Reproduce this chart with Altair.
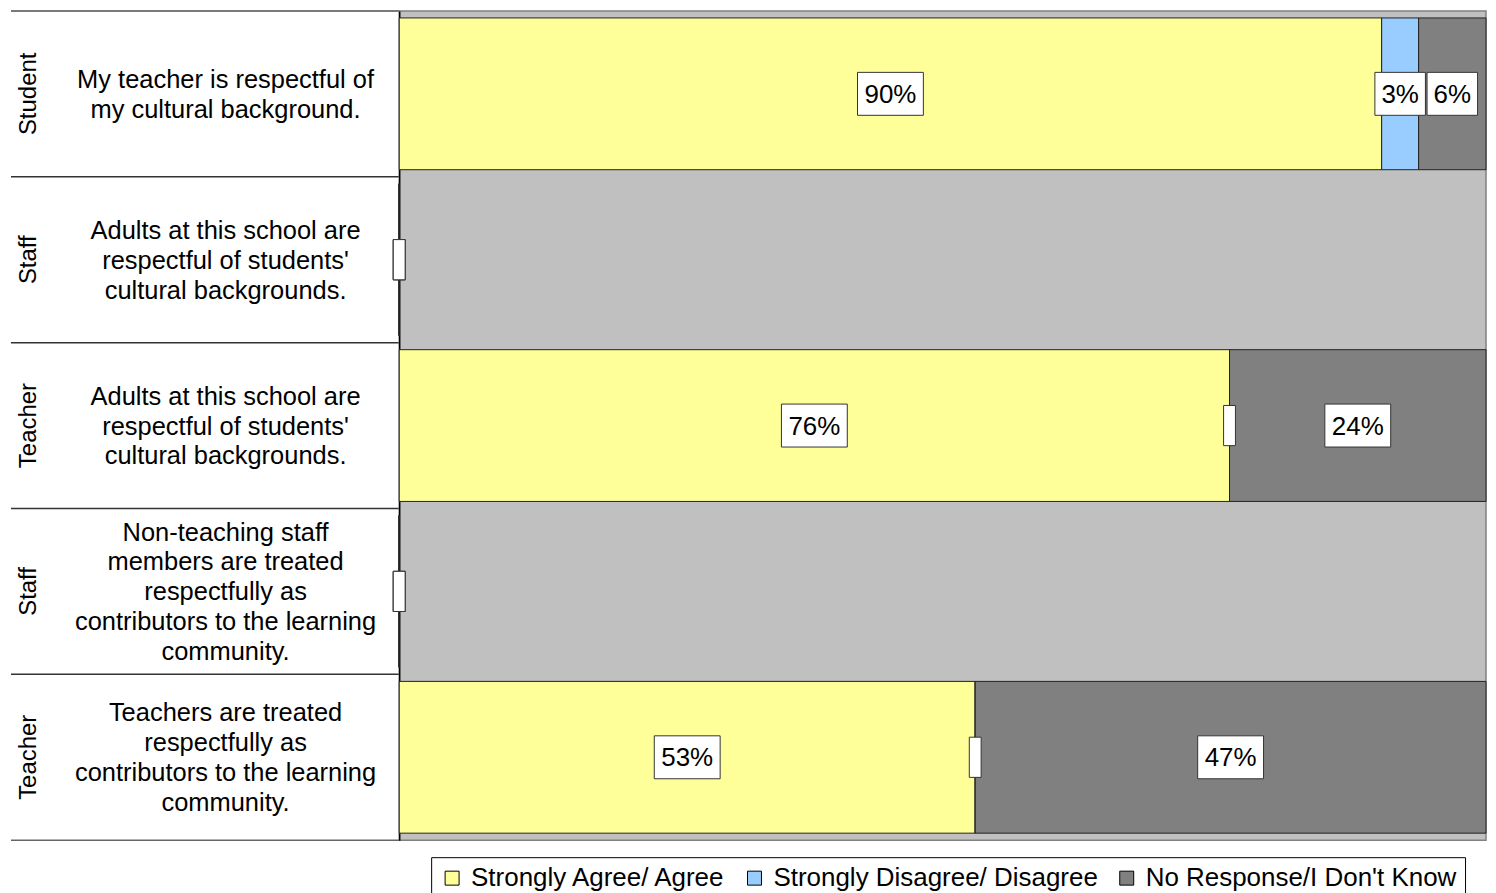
import altair as alt
import pandas as pd

# ---- data ----
rows = ["r1", "r2", "r3", "r4", "r5"]
groups = ["Student", "Staff", "Teacher", "Staff", "Teacher"]
questions = [
    "My teacher is respectful of\nmy cultural background.",
    "Adults at this school are\nrespectful of students'\ncultural backgrounds.",
    "Adults at this school are\nrespectful of students'\ncultural backgrounds.",
    "Non-teaching staff\nmembers are treated\nrespectfully as\ncontributors to the learning\ncommunity.",
    "Teachers are treated\nrespectfully as\ncontributors to the learning\ncommunity.",
]
categories = ["Strongly Agree/ Agree", "Strongly Disagree/ Disagree", "No Response/I Don't Know"]
colors = ["#FFFF99", "#99CCFF", "#808080"]
agree = [90.4, 0.0, 76.4, 0.0, 53.0]
disagree = [3.4, 0.0, 0.0, 0.0, 0.0]
noresp = [6.2, 0.0, 23.6, 0.0, 47.0]

FONT = "Liberation Sans"
LEFT_W = 391
PLOT_W = 1089
H = 831
LINE_H = 30

records = []
for i, r in enumerate(rows):
    for j, (cat, vals) in enumerate(zip(categories, [agree, disagree, noresp])):
        records.append({"row": r, "category": cat, "order": j, "value": vals[i]})
df = pd.DataFrame(records)

left_df = pd.DataFrame({"row": rows, "group": groups, "question": questions})

# ---- left label panel ----
lscale = alt.Scale(domain=rows, paddingInner=0, paddingOuter=0)
yl = alt.Y("row:N", scale=lscale, axis=None)
left_base = alt.Chart(left_df).transform_calculate(
    nl="length(split(datum.question, '\\n'))"
)
left_lines = left_base.mark_rule(color="#333333", strokeWidth=1.5).encode(
    y=alt.Y("row:N", bandPosition=0, scale=lscale, axis=None),
    x=alt.value(2), x2=alt.value(LEFT_W),
)
left_top = left_base.transform_filter(alt.datum.row == rows[0]).mark_rule(color="#808080", strokeWidth=1.5).encode(
    y=alt.Y("row:N", bandPosition=0, scale=lscale, axis=None),
    x=alt.value(2), x2=alt.value(LEFT_W),
)
left_bottom = left_base.transform_filter(alt.datum.row == rows[-1]).mark_rule(color="#666666", strokeWidth=1.5).encode(
    y=alt.Y("row:N", bandPosition=1, scale=lscale, axis=None),
    x=alt.value(2), x2=alt.value(LEFT_W),
)
group_text = left_base.mark_text(font=FONT, fontSize=24, angle=270, color="black",
                                 align="center", baseline="middle").encode(
    y=yl, x=alt.value(20), text="group:N")

q_layers = []
for n in [2, 3, 4, 5]:
    q_layers.append(
        left_base.transform_filter(alt.datum.nl == n).mark_text(
            font=FONT, fontSize=25.5, color="black", align="center", baseline="middle",
            lineBreak="\n", lineHeight=LINE_H, dy=-(n - 1) * LINE_H / 2 + 1,
        ).encode(y=yl, x=alt.value(217), text="question:N")
    )

left = alt.layer(left_lines, left_top, left_bottom, group_text, *q_layers).properties(
    width=LEFT_W, height=H,
    view=alt.ViewBackground(stroke="transparent", fill="white"),
)

# ---- right bar panel ----
xs = alt.Scale(domain=[0, 100], nice=False, zero=True)
yr = alt.Y("row:N", scale=alt.Scale(domain=rows, paddingInner=0.085, paddingOuter=0.0425),
           axis=alt.Axis(labels=False, ticks=False, title=None, domainColor="black", domainWidth=1.5, grid=False))

base = alt.Chart(df).transform_stack(
    stack="value", groupby=["row"], as_=["x0", "x1"], sort=[alt.SortField("order", order="ascending")]
).transform_calculate(
    mid="(datum.x0 + datum.x1) / 2",
    label="datum.value > 0 ? format(datum.value, '.0f') + '%' : ''",
    kind="datum.value <= 0 ? 'w0' : (datum.value < 9.5 ? 'w2' : 'w3')",
)

bars = base.mark_bar(stroke="#222222", strokeWidth=1).encode(
    x=alt.X("x0:Q", scale=xs, axis=None),
    x2="x1:Q",
    y=yr,
    color=alt.Color(
        "category:N",
        scale=alt.Scale(domain=categories, range=colors),
        legend=alt.Legend(
            title=None, orient="none", direction="horizontal", legendX=32, legendY=848,
            symbolType="square", symbolSize=196, symbolStrokeColor="black", symbolStrokeWidth=1,
            labelFont=FONT, labelFontSize=26, labelColor="black", labelOffset=6, labelLimit=600,
            columnPadding=15, padding=8, strokeColor="black", fillColor="white",
        ),
    ),
    order=alt.Order("order:Q"),
)

box_paths = {
    "w0": "M-0.18,-0.61H0.18V0.61H-0.18Z",
    "w2": "M-0.767,-0.652H0.767V0.652H-0.767Z",
    "w3": "M-1,-0.652H1V0.652H-1Z",
}
boxes = base.mark_point(filled=True, fill="white", stroke="#333333", strokeWidth=1, opacity=1, size=4356).encode(
    x=alt.X("mid:Q", scale=xs, axis=None),
    y=yr,
    shape=alt.Shape("kind:N", scale=alt.Scale(domain=list(box_paths.keys()), range=list(box_paths.values())), legend=None),
)
labels = base.mark_text(font=FONT, fontSize=26, color="black", align="center", baseline="middle", dy=1).encode(
    x=alt.X("mid:Q", scale=xs, axis=None),
    y=yr,
    text="label:N",
)

right = alt.layer(bars, boxes, labels).properties(
    width=PLOT_W, height=H,
    view=alt.ViewBackground(fill="#C0C0C0", stroke="#808080", strokeWidth=1.5),
)

chart = alt.hconcat(left, right, spacing=0, bounds="flush").resolve_scale(
    y="independent", x="independent", color="independent", shape="independent"
).properties(padding=0).configure(font=FONT)

chart.save("out.html", embed_options={"renderer": "svg", "actions": False})
